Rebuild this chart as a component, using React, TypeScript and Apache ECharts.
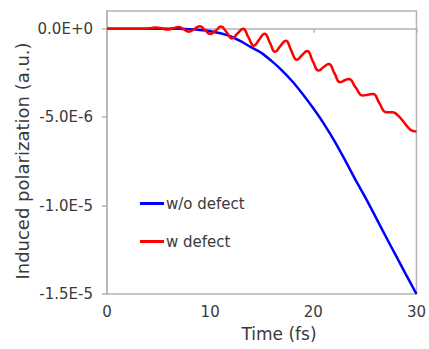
import React, { useEffect, useRef } from "react";
import * as echarts from "echarts";

// Time axis (fs)
const blueTime = [0, 2, 4, 6, 7, 8, 9, 10, 11, 12, 13, 14, 15, 16, 17, 18, 19, 20, 21, 22, 23, 24, 25, 26, 27, 28, 29, 30];
// Induced polarization without defect, in units of 1E-6 a.u.
const blueValue = [0, 0, 0, 0, -0.01, -0.03, -0.07, -0.14, -0.26, -0.44, -0.72, -1.06, -1.38, -1.85, -2.38, -3.0, -3.72, -4.5, -5.35, -6.3, -7.35, -8.45, -9.5, -10.6, -11.72, -12.82, -13.92, -15.0];

// Induced polarization with defect, in units of 1E-6 a.u.
const redTime = [0, 3.5, 4.2, 4.75, 5.3, 5.86, 6.4, 6.95, 7.4, 7.93, 8.45, 8.99, 9.5, 10.0, 10.55, 11.05, 11.6, 12.1, 12.65, 13.19, 13.7, 14.25, 14.75, 15.27, 15.8, 16.3, 16.8, 17.33, 17.85, 18.4, 18.9, 19.4, 19.95, 20.5, 21.0, 21.5, 22.05, 22.6, 23.0, 23.45, 24.1, 24.8, 25.3, 25.8, 26.4, 27.05, 27.7, 28.1, 28.65, 29.4, 29.75, 30];
const redValue = [0, 0, 0.03, 0.07, 0.02, -0.05, 0.02, 0.1, -0.02, -0.17, -0.02, 0.14, -0.08, -0.3, -0.1, 0.12, -0.2, -0.55, -0.27, 0.0, -0.48, -0.96, -0.62, -0.28, -0.8, -1.31, -0.98, -0.68, -1.22, -1.76, -1.5, -1.26, -1.83, -2.37, -2.17, -1.99, -2.52, -3.03, -2.93, -2.84, -3.32, -3.78, -3.73, -3.69, -4.2, -4.72, -4.72, -4.85, -5.19, -5.71, -5.79, -5.82];

const seriesNames = ["w/o defect", "w defect"];
const xTicks = [0, 10, 20, 30];
const yTicks = [0, -5, -10, -15];

const FONT = "DejaVu Sans";
const GRAY = "#b4b4b4";
const TEXT = "#3a3a3a";

export default function App() {
  const ref = useRef<HTMLDivElement>(null);
  useEffect(() => {
    if (!ref.current) return;
    const chart = echarts.init(ref.current, undefined, { renderer: "svg" });
    chart.setOption({
      animation: false,
      backgroundColor: "#ffffff",
      grid: { left: 107, right: 8, top: 11, bottom: 55, show: true, borderColor: GRAY, borderWidth: 1.5 },
      legend: {
        data: seriesNames,
        orient: "vertical",
        left: 140,
        top: 196,
        padding: 0,
        itemGap: 23,
        itemWidth: 24,
        itemHeight: 3,
        icon: "rect",
        textStyle: { fontFamily: FONT, fontSize: 15, color: TEXT, padding: [0, 0, 0, -3] },
      },
      xAxis: {
        type: "value",
        min: xTicks[0],
        max: xTicks[xTicks.length - 1],
        interval: 10,
        splitLine: { show: false },
        axisLine: { lineStyle: { color: GRAY, width: 1.5 } },
        axisTick: { show: true, length: 4, lineStyle: { color: GRAY, width: 1.5 } },
        axisLabel: { fontFamily: FONT, fontSize: 15, color: TEXT, margin: 10 },
      },
      yAxis: {
        type: "value",
        min: -15,
        max: 1,
        splitLine: { show: false },
        axisLine: { show: true, lineStyle: { color: GRAY, width: 1.5 } },
        axisTick: { show: true, length: 5, customValues: yTicks, lineStyle: { color: GRAY, width: 1.5 } },
        axisLabel: {
          customValues: yTicks,
          fontFamily: FONT,
          fontSize: 15,
          color: TEXT,
          margin: 14,
          formatter: (v: number) => (v * 1e-6).toExponential(1).toUpperCase(),
        },
      },
      graphic: [
        {
          type: "text",
          x: 22,
          y: 161,
          rotation: Math.PI / 2,
          style: {
            text: "Induced polarization (a.u.)",
            fontFamily: FONT,
            fontSize: 18,
            fill: TEXT,
            align: "center",
            verticalAlign: "middle",
          },
        },
        {
          type: "text",
          x: 279,
          y: 334,
          style: {
            text: "Time (fs)",
            fontFamily: FONT,
            fontSize: 17,
            fill: TEXT,
            align: "center",
            verticalAlign: "middle",
          },
        },
      ],
      series: [
        {
          name: seriesNames[0],
          type: "line",
          symbol: "none",
          smooth: 0.3,
          data: blueTime.map((t, i) => [t, blueValue[i]]),
          lineStyle: { color: "#0000ff", width: 2.5 },
          itemStyle: { color: "#0000ff" },
        },
        {
          name: seriesNames[1],
          type: "line",
          symbol: "none",
          smooth: 0.5,
          data: redTime.map((t, i) => [t, redValue[i]]),
          lineStyle: { color: "#ff0000", width: 2.5 },
          itemStyle: { color: "#ff0000" },
        },
      ],
    });
    return () => chart.dispose();
  }, []);
  return <div ref={ref} style={{ position: "fixed", left: 0, top: 0, width: 429, height: 349 }} />;
}
